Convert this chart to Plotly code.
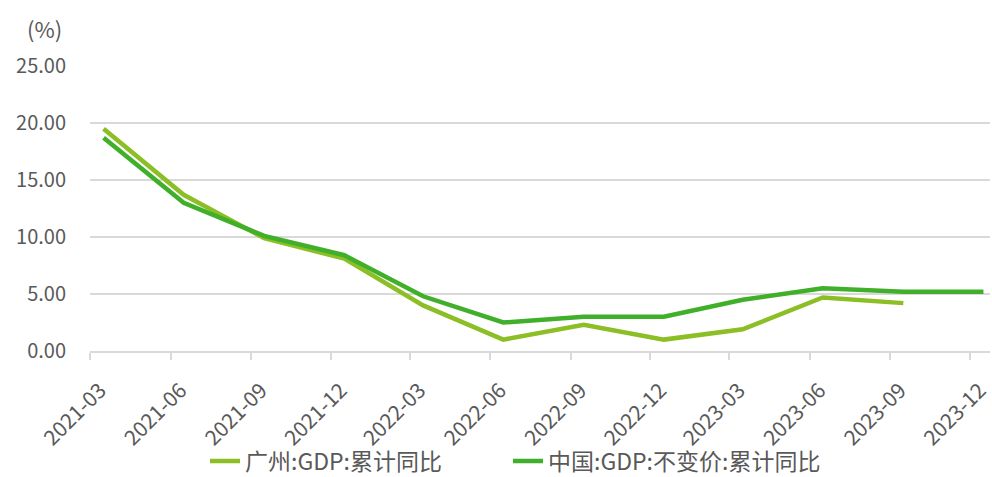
import plotly.graph_objects as go

months = ["2021-03", "2021-06", "2021-09", "2021-12", "2022-03", "2022-06",
          "2022-09", "2022-12", "2023-03", "2023-06", "2023-09", "2023-12"]
guangzhou = [19.5, 13.7, 9.9, 8.1, 4.0, 1.0, 2.3, 1.0, 1.9, 4.7, 4.2, None]
china = [18.7, 13.0, 10.1, 8.4, 4.8, 2.5, 3.0, 3.0, 4.5, 5.5, 5.2, 5.2]
series_names = ["广州:GDP:累计同比", "中国:GDP:不变价:累计同比"]
yticks = [0, 5, 10, 15, 20, 25]

FONT = "Noto Sans CJK SC, Noto Sans, sans-serif"
TXT = "#595959"
GRID = "#D9D9D9"

fig = go.Figure()
fig.add_trace(go.Scatter(
    x=months, y=guangzhou, name=series_names[0], mode="lines",
    line=dict(color="#8CBE25", width=4.5), legend="legend",
    xperiod="M1", xperiodalignment="middle", connectgaps=False))
fig.add_trace(go.Scatter(
    x=months, y=china, name=series_names[1], mode="lines",
    line=dict(color="#40AF2A", width=4.5), legend="legend2",
    xperiod="M1", xperiodalignment="middle"))

legend_common = dict(orientation="h", xref="container", yref="container",
                     xanchor="left", y=1 - 461 / 477, yanchor="middle",
                     bgcolor="rgba(0,0,0,0)", font=dict(size=23, color=TXT))

fig.update_layout(
    width=992, height=477,
    margin=dict(l=90, r=2, t=66, b=126),
    plot_bgcolor="white", paper_bgcolor="white",
    font=dict(family=FONT, color=TXT, size=18),
    showlegend=True,
    legend=dict(x=205 / 992, **legend_common),
    legend2=dict(x=508 / 992, **legend_common),
)
fig.update_xaxes(
    type="date", range=["2021-03-01", "2023-12-24"],
    tick0="2021-03-01", dtick="M3", tickformat="%Y-%m",
    tickangle=-45, tickfont=dict(size=21, color=TXT),
    showgrid=False, showline=True, linecolor=GRID, linewidth=2,
    ticks="outside", ticklen=7, tickcolor=GRID, tickwidth=2,
    ticklabelshift=10, ticklabelstandoff=10,
    automargin=False,
)
fig.update_yaxes(
    range=[0, 25], tickvals=yticks, tickformat=".2f",
    tickfont=dict(size=20, color=TXT),
    showgrid=True, gridcolor=GRID, gridwidth=1.5,
    zeroline=False, showline=False, ticks="", ticklen=0,
    ticklabelstandoff=23, automargin=False,
)
fig.add_annotation(
    text="(%)", xref="paper", yref="paper", x=0, y=1, xshift=-46, yshift=38,
    showarrow=False, font=dict(size=22, color=TXT), xanchor="center", yanchor="middle")

fig.write_html("out.html", config={"displayModeBar": False},
               post_script="document.body.style.margin='0';document.body.style.overflow='hidden';")
